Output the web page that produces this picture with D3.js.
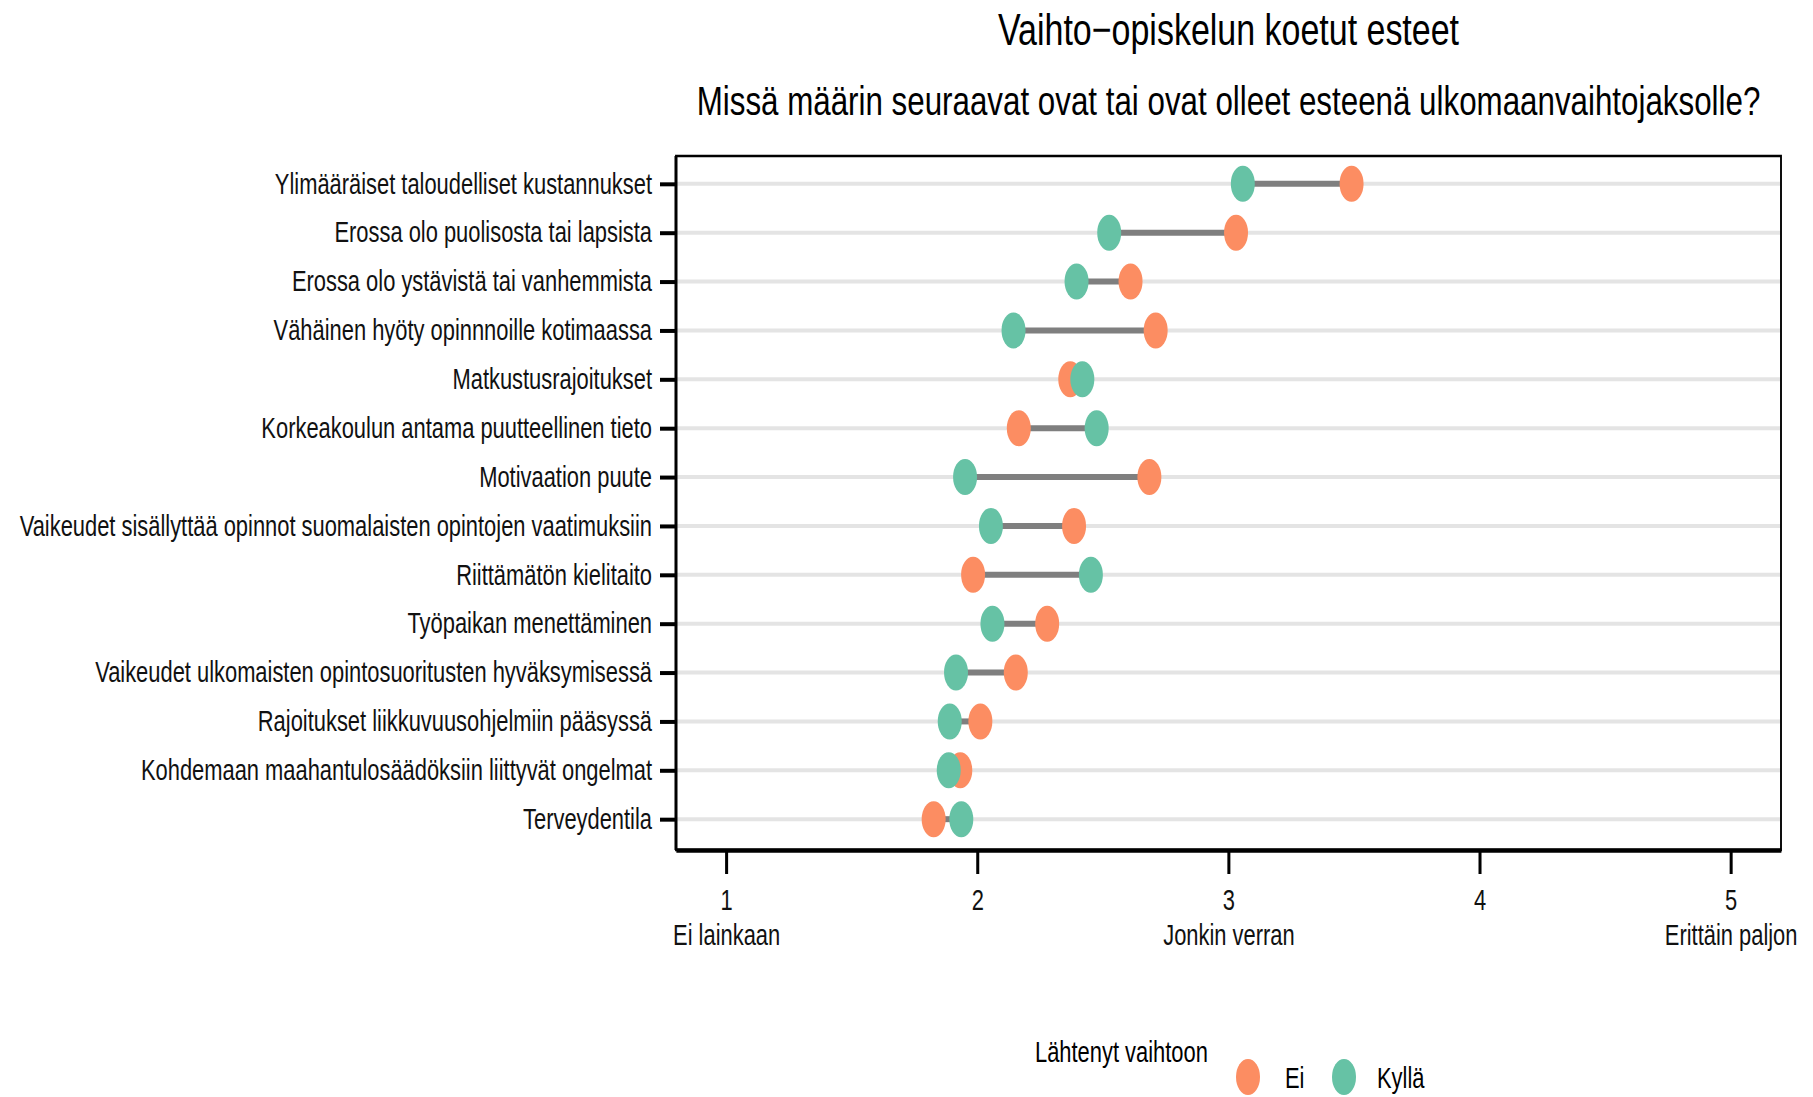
<!DOCTYPE html>
<html>
<head>
<meta charset="utf-8">
<script src="https://cdn.jsdelivr.net/npm/d3@7"></script>
<style>
  html, body { margin: 0; padding: 0; background: #fff; }
  svg { display: block; }
</style>
</head>
<body>
<div id="chart"></div>
<script>
// values
var categories = [
  "Ylimääräiset taloudelliset kustannukset",
  "Erossa olo puolisosta tai lapsista",
  "Erossa olo ystävistä tai vanhemmista",
  "Vähäinen hyöty opinnnoille kotimaassa",
  "Matkustusrajoitukset",
  "Korkeakoulun antama puutteellinen tieto",
  "Motivaation puute",
  "Vaikeudet sisällyttää opinnot suomalaisten opintojen vaatimuksiin",
  "Riittämätön kielitaito",
  "Työpaikan menettäminen",
  "Vaikeudet ulkomaisten opintosuoritusten hyväksymisessä",
  "Rajoitukset liikkuvuusohjelmiin pääsyssä",
  "Kohdemaan maahantulosäädöksiin liittyvät ongelmat",
  "Terveydentila"
]
var eiValues    = [3.49, 3.03, 2.61, 2.71, 2.37, 2.165, 2.685, 2.385, 1.983, 2.278, 2.153, 2.012, 1.932, 1.826]
var kyllaValues = [3.057, 2.525, 2.395, 2.144, 2.418, 2.475, 1.951, 2.054, 2.452, 2.06, 1.915, 1.89, 1.886, 1.936]
var xTicks = [1, 2, 3, 4, 5]
var xTickTop = ["1", "2", "3", "4", "5"]
var xTickBottom = ["Ei lainkaan", "", "Jonkin verran", "", "Erittäin paljon"]
var groups = ["Ei", "Kyllä"]
var groupColors = ["#fc8d62", "#66c2a5"]

// the reference is squeezed sideways, so draw wide and squeeze with the viewBox
var k = 0.755
var W = 1813 / k, H = 1097
function fx(v) { return v / k }
var font = "'Liberation Sans', Arial, Helvetica, sans-serif"

var svg = d3.select("#chart").append("svg")
    .attr("width", 1813)
    .attr("height", 1097)
    .attr("viewBox", "0 0 " + W + " " + H)
    .attr("preserveAspectRatio", "none")
    .style("font-family", font)

var x = d3.scaleLinear().domain([0.8, 5.2]).range([fx(676), fx(1781)])
var y = d3.scalePoint().domain(categories).range([154.5, 848.5]).padding(0.6)

var rows = categories.map(function(c, i) {
    return { cat: c, ei: eiValues[i], kylla: kyllaValues[i] }
})

// grid lines
svg.append("g").selectAll("line").data(categories).join("line")
    .attr("x1", x.range()[0]).attr("x2", x.range()[1])
    .attr("y1", function(d) { return y(d) }).attr("y2", function(d) { return y(d) })
    .attr("stroke", "#e4e4e4").attr("stroke-width", 4)

// connectors
svg.append("g").selectAll("line").data(rows).join("line")
    .attr("x1", function(d) { return x(Math.min(d.ei, d.kylla)) })
    .attr("x2", function(d) { return x(Math.max(d.ei, d.kylla)) })
    .attr("y1", function(d) { return y(d.cat) }).attr("y2", function(d) { return y(d.cat) })
    .attr("stroke", "#7f7f7f").attr("stroke-width", 6)

var rx = fx(12), ry = 18
svg.append("g").selectAll("ellipse").data(rows).join("ellipse")
    .attr("cx", function(d) { return x(d.ei) }).attr("cy", function(d) { return y(d.cat) })
    .attr("rx", rx).attr("ry", ry).attr("fill", groupColors[0])
svg.append("g").selectAll("ellipse").data(rows).join("ellipse")
    .attr("cx", function(d) { return x(d.kylla) }).attr("cy", function(d) { return y(d.cat) })
    .attr("rx", rx).attr("ry", ry).attr("fill", groupColors[1])

// panel border
svg.append("rect")
    .attr("x", x.range()[0]).attr("y", 156)
    .attr("width", x.range()[1] - x.range()[0]).attr("height", 850 - 156)
    .attr("fill", "none").attr("stroke", "#000").attr("stroke-width", 2.5)

// y axis
var yAxis = svg.append("g")
    .attr("transform", "translate(" + x.range()[0] + ",0)")
    .call(d3.axisLeft(y).tickSize(fx(16)).tickSizeOuter(0).tickPadding(fx(8)))
yAxis.select(".domain").remove()
yAxis.append("line")
    .attr("y1", 156).attr("y2", 850)
    .attr("stroke", "#000").attr("stroke-width", 4)
yAxis.selectAll(".tick line").attr("stroke-width", 4)
yAxis.selectAll(".tick text")
    .attr("font-size", 29).attr("font-family", font).attr("fill", "#111")

// x axis
var xAxis = svg.append("g")
    .attr("transform", "translate(0,850)")
    .call(d3.axisBottom(x).tickValues(xTicks).tickSize(24).tickSizeOuter(0).tickPadding(15)
        .tickFormat(function(d, i) { return xTickTop[i] }))
xAxis.select(".domain").attr("stroke-width", 4.5)
xAxis.selectAll(".tick line").attr("stroke-width", 4)
xAxis.selectAll(".tick text")
    .attr("font-size", 29).attr("font-family", font).attr("fill", "#111")
xAxis.selectAll(".tick").append("text")
    .attr("y", 74).attr("dy", "0.71em")
    .attr("text-anchor", "middle")
    .attr("font-size", 29).attr("font-family", font).attr("fill", "#111")
    .text(function(d, i) { return xTickBottom[i] })

// titles
var cx = (x.range()[0] + x.range()[1]) / 2
svg.append("text").attr("x", cx).attr("y", 45).attr("text-anchor", "middle")
    .attr("font-size", 45).text("Vaihto−opiskelun koetut esteet")
svg.append("text").attr("x", cx).attr("y", 115).attr("text-anchor", "middle")
    .attr("font-size", 41.5).text("Missä määrin seuraavat ovat tai ovat olleet esteenä ulkomaanvaihtojaksolle?")

// legend
var legend = svg.append("g")
legend.append("text").attr("x", fx(1035)).attr("y", 1062)
    .attr("font-size", 29).text("Lähtenyt vaihtoon")
var keyX = [1248, 1344], labelX = [1285, 1377]
groups.forEach(function(g, i) {
    legend.append("ellipse").attr("cx", fx(keyX[i])).attr("cy", 1077)
        .attr("rx", rx).attr("ry", ry).attr("fill", groupColors[i])
    legend.append("text").attr("x", fx(labelX[i])).attr("y", 1088)
        .attr("font-size", 29).text(g)
})
</script>
</body>
</html>
